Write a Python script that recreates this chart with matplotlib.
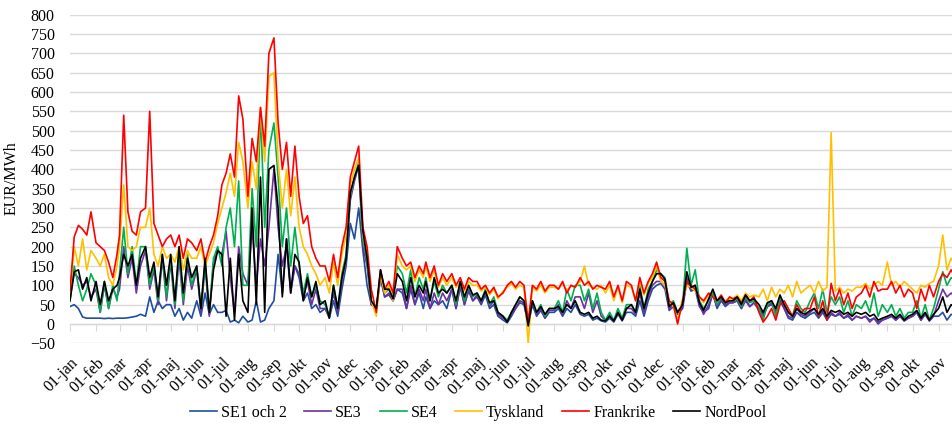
import matplotlib
matplotlib.use("Agg")
import matplotlib.pyplot as plt
import pandas as pd
import numpy as np

plt.rcParams['font.family'] = ['Liberation Serif', 'DejaVu Serif']

# ---- data: six samples per month (days 1, 6, 11, 16, 21, 26), Jan 2022 .. Nov 2024 ----
SAMPLE_DAYS = [1, 6, 11, 16, 21, 26]
FIRST_MONTH = "2022-01-01"
LAST_MONTH = "2024-11-01"
MONTH_ABBR = ["jan", "feb", "mar", "apr", "maj", "jun",
              "jul", "aug", "sep", "okt", "nov", "dec"]

se1_och_2 = [
    # 2022
    45, 50, 40, 18, 15, 15,   15, 15, 14, 15, 14, 15,   15, 15, 16, 18, 20, 25,
    20, 70, 30, 60, 40, 50,   50, 20, 40, 10, 30, 15,   60, 20, 80, 25, 50, 30,
    30, 35, 5, 10, 3, 20,     5, 10, 60, 5, 10, 40,     60, 180, 80, 220, 90, 150,
    120, 60, 80, 40, 50, 30,  40, 15, 60, 20, 90, 150,  260, 220, 300, 190, 100, 50,
    # 2023
    40, 120, 70, 75, 60, 90,  80, 40, 90, 50, 80, 40,   70, 40, 60, 50, 60, 40,
    90, 40, 95, 50, 85, 60,   70, 50, 75, 40, 50, 20,   10, 3, 20, 40, 55, 50,
    0, 50, 20, 35, 15, 30,    30, 40, 20, 40, 30, 50,   25, 20, 25, 10, 15, 8,
    5, 15, 5, 25, 8, 30,      30, 20, 60, 20, 60, 90,   100, 105, 90, 35, 45, 25,
    # 2024
    40, 110, 85, 90, 45, 30,  40, 80, 40, 60, 45, 55,   55, 60, 40, 60, 45, 55,
    40, 25, 45, 50, 35, 60,   40, 15, 10, 30, 20, 15,   25, 30, 15, 30, 10, 25,
    20, 25, 15, 20, 10, 20,   15, 20, 10, 15, 5, 10,    15, 20, 10, 20, 8, 15,
    20, 30, 10, 25, 8, 20,    20, 30, 10, 25, 20, 15,
]

se3 = [
    # 2022
    70, 130, 120, 100, 110, 70,   90, 30, 100, 40, 90, 70,     90, 200, 120, 170, 80, 150,
    190, 90, 140, 50, 170, 60,    160, 40, 170, 50, 150, 90,   140, 30, 150, 20, 160, 190,
    180, 240, 120, 30, 200, 130,  100, 250, 100, 220, 150, 250, 400, 250, 150, 200, 80, 150,
    130, 70, 110, 50, 90, 40,     40, 20, 80, 30, 110, 170,    320, 370, 410, 200, 150, 50,
    # 2023
    40, 120, 70, 80, 60, 90,   90, 40, 100, 50, 90, 60,   90, 40, 80, 50, 80, 60,
    90, 40, 100, 50, 90, 60,   75, 55, 85, 45, 60, 25,    15, 8, 25, 40, 60, 55,
    0, 55, 25, 40, 15, 35,     35, 50, 25, 60, 40, 70,    70, 40, 80, 30, 60, 20,
    10, 25, 8, 30, 10, 40,     40, 25, 80, 30, 70, 100,   110, 110, 100, 40, 50, 30,
    # 2024
    45, 120, 90, 100, 50, 25,  50, 75, 45, 65, 50, 55,    55, 60, 40, 65, 45, 55,
    35, 20, 45, 55, 30, 65,    40, 20, 15, 40, 25, 20,    30, 40, 20, 35, 15, 30,
    20, 30, 15, 25, 10, 20,    15, 20, 5, 15, 0, 10,      15, 20, 10, 20, 8, 15,
    20, 30, 10, 25, 8, 20,     60, 90, 70, 80, 70, 60,
]

se4 = [
    # 2022
    60, 150, 100, 60, 90, 130,    100, 30, 110, 40, 100, 60,    130, 250, 130, 200, 100, 200,
    200, 100, 150, 60, 180, 70,   170, 50, 190, 60, 180, 100,   150, 40, 160, 30, 170, 200,
    150, 250, 300, 200, 370, 100, 100, 350, 200, 550, 250, 450, 520, 380, 200, 300, 150, 250,
    150, 80, 130, 70, 100, 60,    50, 20, 100, 40, 130, 180,    330, 380, 420, 220, 160, 60,
    # 2023
    40, 130, 80, 90, 70, 150,  130, 80, 140, 70, 120, 90,  120, 60, 110, 70, 100, 80,
    100, 50, 110, 60, 100, 70, 80, 60, 90, 50, 70, 30,     20, 10, 30, 50, 70, 60,
    0, 60, 30, 50, 20, 40,     40, 60, 30, 90, 60, 100,    100, 60, 90, 40, 80, 30,
    10, 30, 10, 40, 15, 50,    50, 30, 100, 40, 90, 110,   140, 130, 120, 50, 60, 30,
    # 2024
    50, 196, 100, 140, 60, 40, 60, 80, 50, 70, 55, 60,     60, 65, 45, 70, 55, 60,
    40, 10, 50, 60, 20, 70,    50, 30, 20, 60, 40, 30,     60, 80, 40, 90, 30, 70,
    50, 70, 30, 60, 20, 50,    40, 60, 30, 80, 20, 50,     30, 50, 20, 40, 15, 30,
    30, 60, 15, 50, 10, 40,    90, 135, 100, 120, 110, 100,
]

tyskland = [
    # 2022
    70, 200, 150, 220, 140, 190,  170, 150, 180, 120, 100, 150,  200, 360, 200, 190, 200, 250,
    250, 300, 180, 150, 200, 170, 180, 160, 200, 140, 190, 170,  170, 200, 150, 180, 210, 260,
    300, 340, 390, 330, 470, 420, 300, 420, 350, 560, 420, 640,  650, 420, 300, 400, 280, 380,
    250, 200, 180, 150, 130, 100, 120, 80, 160, 100, 180, 230,   360, 400, 430, 230, 180, 60,
    # 2023
    20, 130, 80, 100, 60, 180,    150, 140, 150, 110, 140, 120,  150, 110, 140, 95, 120, 100,
    120, 95, 110, 85, 110, 100,   100, 85, 95, 75, 90, 65,       85, 95, 105, 90, 100, 95,
    -50, 95, 85, 100, 80, 95,     95, 90, 105, 85, 100, 95,      110, 150, 100, 95, 90, 100,
    80, 100, 60, 95, 55, 100,     95, 60, 110, 75, 105, 120,     150, 110, 100, 55, 45, 10,
    # 2024
    65, 100, 95, 85, 70, 55,      75, 70, 60, 70, 60, 65,        65, 75, 60, 80, 70, 75,
    70, 90, 60, 95, 70, 90,       80, 100, 70, 110, 80, 90,      100, 80, 110, 85, 95, 495,
    85, 95, 80, 90, 85, 95,       95, 105, 90, 100, 110, 100,    160, 100, 110, 95, 110, 100,
    90, 80, 100, 95, 105, 110,    150, 230, 140, 170, 150, 140,
]

frankrike = [
    # 2022
    86, 225, 255, 245, 230, 290,  210, 200, 190, 160, 120, 180,  230, 540, 290, 240, 230, 290,
    300, 550, 260, 230, 200, 220, 230, 200, 230, 170, 220, 210,  190, 220, 160, 200, 230, 280,
    360, 390, 440, 380, 590, 530, 330, 480, 420, 560, 460, 700,  740, 520, 400, 470, 330, 460,
    330, 260, 280, 200, 170, 150, 150, 110, 180, 120, 200, 250,  380, 420, 460, 250, 200, 90,
    # 2023
    30, 140, 90, 110, 80, 200,    170, 150, 160, 120, 150, 130,  160, 120, 150, 100, 130, 110,
    130, 100, 120, 90, 120, 110,  110, 90, 100, 80, 95, 70,      80, 100, 110, 95, 110, 100,
    5, 100, 90, 110, 85, 100,     100, 90, 110, 80, 100, 95,     120, 100, 110, 90, 100, 95,
    90, 110, 70, 100, 60, 110,    100, 60, 120, 80, 110, 130,    160, 120, 110, 60, 50, 0,
    # 2024
    60, 110, 100, 90, 70, 60,     80, 70, 60, 75, 55, 70,        65, 70, 55, 75, 60, 70,
    30, 5, 20, 40, 10, 50,        60, 40, 20, 50, 30, 40,        40, 70, 20, 60, 10, 105,
    60, 90, 50, 80, 40, 70,       80, 100, 70, 110, 85, 90,      90, 110, 80, 100, 70, 90,
    80, 40, 90, 60, 100, 70,      110, 130, 120, 140, 120, 110,
]

nordpool = [
    # 2022
    60, 135, 140, 90, 120, 60,    110, 50, 110, 60, 90, 100,    120, 180, 150, 180, 100, 170,
    200, 120, 160, 70, 180, 100,  180, 60, 200, 80, 170, 120,   150, 40, 170, 30, 140, 190,
    180, 20, 170, 10, 180, 60,    30, 300, 50, 380, 30, 400,    410, 300, 70, 220, 80, 180,
    160, 60, 120, 70, 110, 50,    60, 15, 100, 40, 120, 170,    340, 380, 410, 240, 170, 60,
    # 2023
    40, 140, 90, 90, 65, 130,  110, 60, 120, 70, 100, 80,   110, 60, 120, 80, 90, 80,
    100, 60, 110, 70, 100, 75, 80, 60, 85, 55, 60, 30,      20, 5, 30, 50, 70, 60,
    -5, 60, 30, 45, 25, 40,    40, 45, 30, 50, 40, 60,      30, 25, 30, 15, 20, 10,
    8, 20, 8, 30, 10, 40,      50, 30, 90, 40, 80, 110,     130, 130, 115, 45, 55, 30,
    # 2024
    50, 135, 95, 100, 55, 35,  65, 90, 60, 70, 55, 60,      60, 70, 50, 75, 60, 65,
    50, 30, 55, 60, 40, 75,    50, 30, 20, 40, 30, 25,      35, 40, 25, 40, 20, 35,
    30, 35, 25, 30, 20, 30,    25, 30, 20, 25, 10, 15,      20, 25, 15, 25, 10, 20,
    25, 35, 15, 30, 10, 25,    40, 70, 30, 50, 40, 35,
]

SERIES = [
    ("SE1 och 2", se1_och_2, "#1F4E9E"),
    ("SE3", se3, "#7030A0"),
    ("SE4", se4, "#00B050"),
    ("Tyskland", tyskland, "#FFC000"),
    ("Frankrike", frankrike, "#FF0000"),
    ("NordPool", nordpool, "#000000"),
]

months = pd.date_range(FIRST_MONTH, LAST_MONTH, freq="MS")
dates = [m + pd.Timedelta(days=d - 1) for m in months for d in SAMPLE_DAYS]

W, H = 952, 426
fig = plt.figure(figsize=(W / 100, H / 100), dpi=100)
left, right, top, bottom = 70, 952, 14.7, 343.3
ax = fig.add_axes([left / W, 1 - bottom / H, (right - left) / W, (bottom - top) / H])

for name, vals, col in SERIES:
    ax.plot(dates, vals, color=col, lw=1.2, label=name, solid_joinstyle="round")

ax.set_ylim(-50, 800)
ax.set_yticks(np.arange(-50, 801, 50))
ax.set_xlim(pd.Timestamp("2022-01-01"), pd.Timestamp("2024-11-17"))

ax.grid(axis="y", color="#d9d9d9", lw=1.0)
ax.set_axisbelow(True)
for s in ["top", "right", "left"]:
    ax.spines[s].set_visible(False)
ax.spines["bottom"].set_position(("data", 0))
ax.spines["bottom"].set_color("#d9d9d9")
ax.spines["bottom"].set_linewidth(1.0)
ax.spines["bottom"].set_zorder(0.5)

tick_dates = pd.date_range("2022-01-01", "2024-11-01", freq="MS")
ax.set_xticks(tick_dates)
ax.set_xticklabels(["01-" + MONTH_ABBR[d.month - 1] for d in tick_dates],
                   rotation=45, ha="right", va="top", rotation_mode="anchor",
                   fontsize=11.5)
ax.tick_params(axis="x", direction="out", length=5, color="#d9d9d9", pad=17)
ax.tick_params(axis="y", length=0, pad=11, labelsize=11.5)

fig.text(12 / W, 1 - 178 / H, "EUR/MWh", rotation=90, ha="center", va="center",
         fontsize=11.5)

fig.legend(loc="center", bbox_to_anchor=(478 / W, 1 - 413 / H), ncol=6,
           frameon=False, fontsize=11.5, handlelength=1.7, handletextpad=0.25,
           columnspacing=1.1)

fig.savefig("out.png", dpi=100)
